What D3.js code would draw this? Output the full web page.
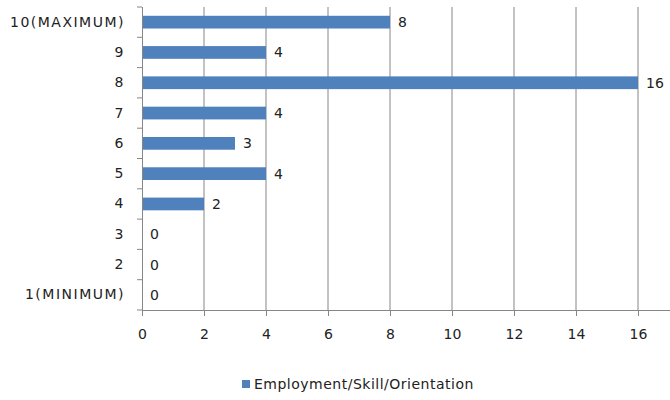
<!DOCTYPE html>
<html><head><meta charset="utf-8">
<script src="https://cdn.jsdelivr.net/npm/d3@7"></script>
<style>body{margin:0;background:#fff}svg{display:block}</style>
</head><body>
<svg id="c" width="670" height="400"></svg>
<script>
const categories = ["10(MAXIMUM)","9","8","7","6","5","4","3","2","1(MINIMUM)"];
const values = [8,4,16,4,3,4,2,0,0,0];
const xTicks = [0,2,4,6,8,10,12,14,16,18];
const seriesName = "Employment/Skill/Orientation";

const svg = d3.select("#c");
const pLeft = 142, pTop = 7, pBottom = 310;
const x = d3.scaleLinear().domain([0,18]).range([pLeft, pLeft + 18*31]);
const y = d3.scaleBand().domain(categories).range([pTop, pBottom]).paddingInner(0.58).paddingOuter(0.29);
const font = "DejaVu Sans, Verdana, sans-serif";

// gridlines
svg.append("g").selectAll("line").data(xTicks.filter(d=>d>0)).join("line")
  .attr("x1", d=>x(d)).attr("x2", d=>x(d)).attr("y1", pTop).attr("y2", pBottom)
  .attr("stroke", "#868686").attr("stroke-width", 1);

// bars
svg.append("g").selectAll("rect").data(values).join("rect")
  .attr("x", x(0)).attr("y", (d,i)=>y(categories[i]))
  .attr("width", d=>x(d)-x(0)).attr("height", y.bandwidth())
  .attr("fill", "#4f81bd");

// value labels
svg.append("g").selectAll("text").data(values).join("text")
  .attr("x", d=>x(d)+8).attr("y", (d,i)=>y(categories[i])+y.bandwidth()/2)
  .attr("dy", "0.36em").attr("font-family", font).attr("font-size", 14)
  .attr("fill", "#222").text(d=>d);

// x axis
const xa = svg.append("g").attr("transform", `translate(0,${pBottom})`)
  .call(d3.axisBottom(x).tickValues(xTicks.slice(0,9)).tickSize(6).tickPadding(13));
xa.select(".domain").attr("d", `M${pLeft},0.5H700`);
// y axis
const ya = svg.append("g").attr("transform", `translate(${pLeft},0)`)
  .call(d3.axisLeft(y).tickSize(0).tickPadding(17));
ya.select(".domain").attr("d", `M0.5,${pTop}V${pBottom+6}`);
const step = (pBottom-pTop)/categories.length;
ya.append("g").selectAll("line").data(d3.range(categories.length+1)).join("line")
  .attr("x1", -5).attr("x2", 0).attr("y1", i=>pTop + i*step)
  .attr("y2", i=>pTop + i*step).attr("stroke", "#868686");

svg.selectAll(".domain, .tick line").attr("stroke", "#868686");
svg.selectAll(".tick text").attr("font-family", font).attr("font-size", 14).attr("fill", "#222");
ya.selectAll(".tick text").attr("letter-spacing", 1.5);

// legend
const lg = svg.append("g");
lg.append("rect").attr("x", 242).attr("y", 380).attr("width", 8).attr("height", 8).attr("fill", "#4f81bd");
lg.append("text").attr("x", 254).attr("y", 384).attr("dy", "0.36em")
  .attr("font-family", font).attr("font-size", 14).attr("letter-spacing", 0.5)
  .attr("fill", "#222").text(seriesName);
</script>
</body></html>
